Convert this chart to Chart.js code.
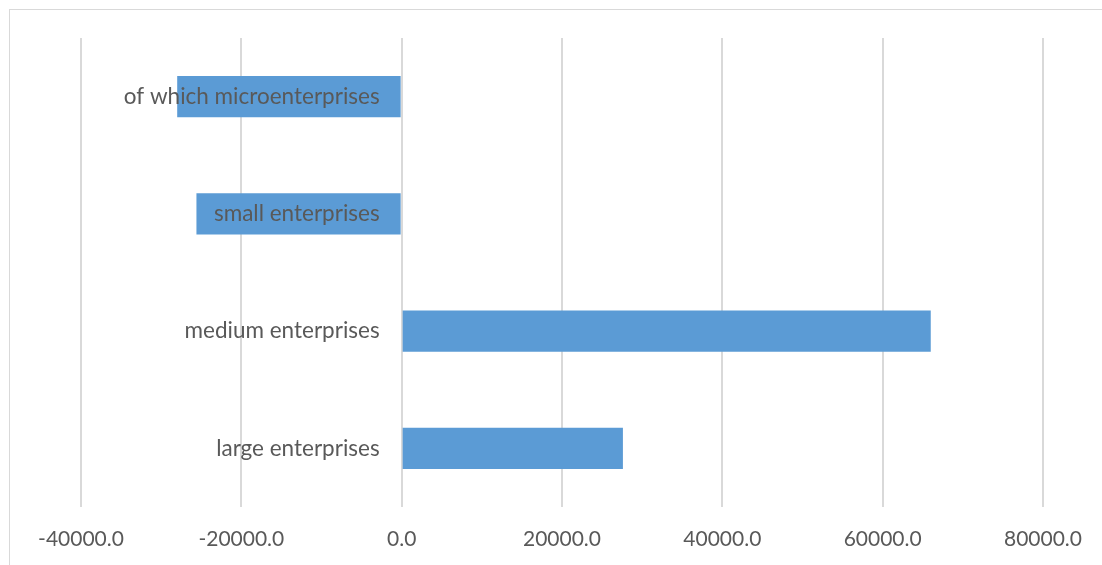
<!DOCTYPE html>
<html lang="en">
<head>
<meta charset="UTF-8">
<title>Enterprises</title>
<script src="https://cdn.jsdelivr.net/npm/chart.js"></script>
<style>
  html, body { margin: 0; padding: 0; background: #fff; overflow: hidden; }
  #wrap { position: relative; width: 1102px; height: 565px; }
  #frame { position: absolute; left: 9px; top: 9px; width: 1200px; height: 700px; border: 1px solid #d9d9d9; }
  canvas { position: absolute; left: 0; top: 0; }
</style>
</head>
<body>
<div id="wrap">
  <div id="frame"></div>
  <canvas id="chart" width="1102" height="565"></canvas>
</div>
<script>
const categories = ['of which microenterprises', 'small enterprises', 'medium enterprises', 'large enterprises'];
const values = [-28000, -25600, 66000, 27600];
const axisMin = -40000;
const axisMax = 80000;
const axisStep = 20000;

const textColor = '#595959';
const fontFamily = 'Lato, "Open Sans", sans-serif';

// category names sit just left of the zero line, over the bars
const zeroLabels = {
  id: 'zeroLabels',
  afterDatasetsDraw(chart) {
    const ctx = chart.ctx;
    const xs = chart.scales.x, ys = chart.scales.y;
    const x0 = xs.getPixelForValue(0) - 22;
    ctx.save();
    ctx.font = '22.5px ' + fontFamily;
    ctx.fillStyle = textColor;
    ctx.textAlign = 'right';
    ctx.textBaseline = 'middle';
    categories.forEach((c, i) => {
      ctx.fillText(c, x0, ys.getPixelForValue(i));
    });
    ctx.restore();
  }
};

new Chart(document.getElementById('chart'), {
  type: 'bar',
  data: {
    labels: categories,
    datasets: [{
      data: values,
      backgroundColor: '#5b9bd5',
      borderWidth: 0,
      categoryPercentage: 1,
      barPercentage: 0.35
    }]
  },
  options: {
    indexAxis: 'y',
    responsive: false,
    animation: false,
    layout: { padding: { left: 81, right: 59, top: 38, bottom: 0 } },
    plugins: { legend: { display: false }, tooltip: { enabled: false } },
    scales: {
      x: {
        min: axisMin,
        max: axisMax,
        afterFit(scale) { scale.height = 58; },
        border: { display: false },
        grid: { color: '#d9d9d9', lineWidth: 2, drawTicks: false },
        ticks: {
          stepSize: axisStep,
          padding: 20,
          color: textColor,
          font: { family: fontFamily, size: 21 },
          callback: v => v.toFixed(1)
        }
      },
      y: {
        display: false
      }
    }
  },
  plugins: [zeroLabels]
});
</script>
</body>
</html>
